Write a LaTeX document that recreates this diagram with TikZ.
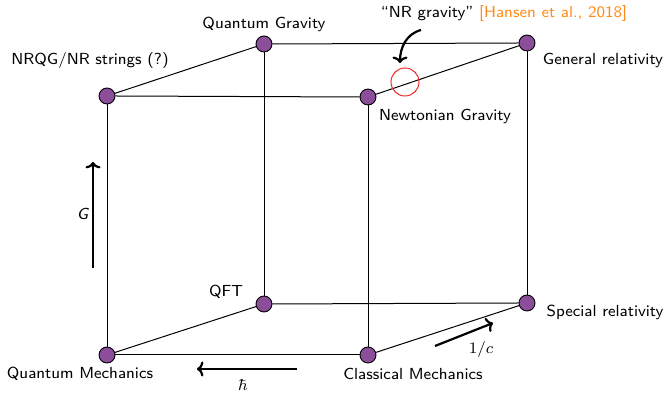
\documentclass[tikz,border=0pt]{standalone}
\usepackage{xcolor}
\usepackage{tikz}
\usepackage{amsmath}
\usetikzlibrary{
  arrows.meta,
  positioning,
  calc
}
\definecolor{cbVertex}{HTML}{8C4E9A}
\definecolor{cbCite}{HTML}{FF8C1A}
\definecolor{cbRing}{HTML}{F02828}
\tikzset{
  vertex/.style={draw, circle, fill=cbVertex, minimum size=8pt, inner sep=0pt, line width=0.45pt},
  edge/.style={line width=0.5pt, black},
  limitarrow/.style={-{To[length=3.2pt, width=7.5pt]}, line width=1.1pt},
  lbl/.style={font=\sffamily\footnotesize, inner sep=1pt},
  ring/.style={draw=cbRing, circle, minimum size=14pt, inner sep=0pt, line width=0.5pt}
}

\begin{document}
\begin{tikzpicture}[x=0.5pt, y=-0.5pt]
  \useasboundingbox (0,0) rectangle (665,394);
  % cube corners
  \node[vertex] (qm) at (107,355) {};
  \node[vertex] (cm) at (368,355) {};
  \node[vertex] (qft) at (264,304) {};
  \node[vertex] (sr) at (527,303) {};
  \node[vertex] (nrqg) at (107,96) {};
  \node[vertex] (ng) at (368,97) {};
  \node[vertex] (qg) at (264,44) {};
  \node[vertex] (gr) at (527,43) {};
  % edges
  \draw[edge] (qm.east) -- (cm.west);
  \draw[edge] (qft.east) -- (sr.west);
  \draw[edge] (nrqg.east) -- (ng.west);
  \draw[edge] (qg.east) -- (gr.west);
  \draw[edge] (qm.north) -- (nrqg.south);
  \draw[edge] (cm.north) -- (ng.south);
  \draw[edge] (qft.north) -- (qg.south);
  \draw[edge] (sr.north) -- (gr.south);
  \draw[edge] (qm) -- (qft);
  \draw[edge] (cm) -- (sr);
  \draw[edge] (nrqg) -- (qg);
  \draw[edge] (ng) -- (gr);
  % labels
  \node[lbl] (qglbl) at (264,24) {Quantum Gravity};
  \node[lbl] (nrqglbl) at (90,61) {NRQG/NR strings (?)};
  \node[lbl] (grlbl) at (603,60) {General relativity};
  \node[lbl] (nglbl) at (445,116) {Newtonian Gravity};
  \node[lbl] (qftlbl) at (226,292) {QFT};
  \node[lbl] (srlbl) at (605,312) {Special relativity};
  \node[lbl] (qmlbl) at (80,374) {Quantum Mechanics};
  \node[lbl] (cmlbl) at (413,374) {Classical Mechanics};
  % NR gravity
  \node[ring] (nrg) at (405,82) {};
  \node[lbl] (nrglbl) at (504,14) {``NR gravity'' \textcolor{cbCite}{[Hansen et al., 2018]}};
  \coordinate (nrgtail) at (421,30);
  \coordinate (nrgtip) at (400,63);
  \draw[limitarrow] (nrgtail) to[out=195, in=90] (nrgtip);
  % limits
  \coordinate (gtail) at (93,268);
  \coordinate (ghead) at (93,162);
  \draw[limitarrow] (gtail) -- (ghead);
  \node[lbl] (glbl) at (83,214) {\textit{G}};
  \coordinate (htail) at (297,369);
  \coordinate (hhead) at (197,369);
  \draw[limitarrow] (htail) -- (hhead);
  \node[lbl] (hlbl) at (243,385) {$\hbar$};
  \coordinate (ctail) at (435,346);
  \coordinate (chead) at (493,323);
  \draw[limitarrow] (ctail) -- (chead);
  \node[lbl] (clbl) at (481,350) {$1/c$};
\end{tikzpicture}
\end{document}
